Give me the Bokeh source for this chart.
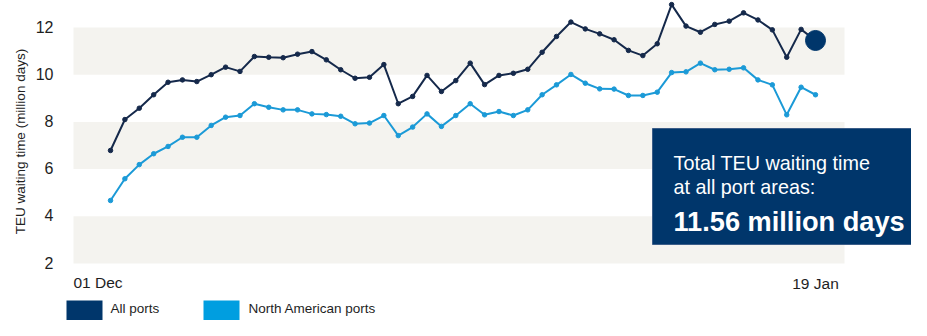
import math
from bokeh.plotting import figure
from bokeh.models import Range1d
from bokeh.core.properties import value
from bokeh.embed import file_html
from bokeh.resources import INLINE

# ---------------- data ----------------
date_labels = ["01 Dec", "19 Jan"]
all_ports = [6.79, 8.10, 8.58, 9.15, 9.68, 9.78, 9.71, 10.00, 10.32, 10.14,
             10.77, 10.74, 10.72, 10.87, 10.98, 10.63, 10.21, 9.85, 9.89, 10.43,
             8.77, 9.08, 9.97, 9.29, 9.75, 10.49, 9.58, 9.97, 10.06, 10.23,
             10.95, 11.62, 12.23, 11.94, 11.73, 11.48, 11.03, 10.81, 11.31, 12.97,
             12.06, 11.80, 12.13, 12.27, 12.62, 12.32, 11.90, 10.74, 11.92, 11.45]
north_america = [4.67, 5.59, 6.19, 6.65, 6.96, 7.35, 7.35, 7.85, 8.20, 8.27,
                 8.77, 8.62, 8.51, 8.51, 8.34, 8.31, 8.24, 7.92, 7.95, 8.27,
                 7.42, 7.78, 8.34, 7.81, 8.27, 8.77, 8.30, 8.44, 8.27, 8.51,
                 9.15, 9.57, 10.01, 9.64, 9.40, 9.39, 9.12, 9.12, 9.26, 10.09,
                 10.12, 10.49, 10.21, 10.23, 10.29, 9.78, 9.57, 8.30, 9.47, 9.15]
y_ticks = [2, 4, 6, 8, 10, 12]
band_bottoms = [2, 6, 10]
band_tops = [4, 8, 12]
series_names = ["All ports", "North American ports"]
callout_lines = ["Total TEU waiting time", "at all port areas:"]
callout_value = "11.56 million days"
y_title = "TEU waiting time (million days)"

days = list(range(len(all_ports)))

# ---------------- layout helpers (canvas pixel -> data) ----------------
W, H = 911, 320
DX = 705.0 / 49          # px per day
X0 = 110.0               # canvas x of first day
S = 23.6                 # px per unit
Y12 = 27.0               # canvas y of value 12


def px(cx):
    return (cx - X0) / DX


def py(cy):
    return 12 - (cy - Y12) / S


FONT = value("Liberation Sans")
NAVY = "#00366b"
LINE_DARK = "#15294b"
LIGHT = "#1b9ad7"
LEG_LIGHT = "#009ee0"
BAND = "#f4f3ef"
TXT = "#1e1e1e"

p = figure(width=W, height=H, output_backend="svg", toolbar_location=None,
           x_range=Range1d(px(0), px(W)), y_range=Range1d(py(H), py(0)),
           x_axis_type=None, y_axis_type=None, min_border=0,
           min_border_left=0, min_border_right=0, min_border_top=0, min_border_bottom=0)
p.outline_line_color = None
p.grid.visible = False
p.background_fill_color = "white"
p.border_fill_color = "white"

# shaded bands
p.quad(left=px(73), right=px(844), bottom=band_bottoms, top=band_tops,
       fill_color=BAND, line_color=None)

# y tick labels
p.text(x=[px(53)] * len(y_ticks), y=[t + 0.04 for t in y_ticks],
       text=[str(t) for t in y_ticks], text_align="right", text_baseline="middle",
       text_font=FONT, text_font_size="16px", text_color=TXT)

# y title
p.text(x=[px(20)], y=[py(141)], text=[y_title], angle=math.pi / 2,
       text_align="center", text_baseline="middle", text_font=FONT,
       text_font_size="13.5px", text_color="#222222")

# x labels
p.text(x=[px(73)], y=[py(282)], text=[date_labels[0]], text_align="left",
       text_baseline="middle", text_font=FONT, text_font_size="15.5px", text_color=TXT)
p.text(x=[days[-1]], y=[py(283)], text=[date_labels[1]], text_align="center",
       text_baseline="middle", text_font=FONT, text_font_size="15.5px", text_color=TXT)

# lines
p.line(days, north_america, line_color=LIGHT, line_width=2)
p.scatter(days, north_america, size=4.5, fill_color=LIGHT, line_color=LIGHT)
p.line(days, all_ports, line_color=LINE_DARK, line_width=2)
p.scatter(days[:-1], all_ports[:-1], size=4.5, fill_color=LINE_DARK, line_color=LINE_DARK)
p.scatter([days[-1]], [all_ports[-1]], size=20, fill_color=NAVY, line_color=NAVY)

# callout box
p.quad(left=[px(652)], right=[px(935)], bottom=[py(244)], top=[py(128)],
       fill_color=NAVY, line_color="#3b5d88", line_width=1)
p.text(x=[px(673), px(673)], y=[py(162), py(186)], text=callout_lines,
       text_align="left", text_baseline="alphabetic", text_font=FONT,
       text_font_size="19.8px", text_color="white")
p.text(x=[px(673)], y=[py(221)], text=[callout_value], text_align="left",
       text_baseline="alphabetic", text_font=FONT, text_font_size="27.2px",
       text_font_style="bold", text_color="white")

# legend
p.quad(left=[px(66), px(203)], right=[px(102), px(239)],
       bottom=[py(330), py(330)], top=[py(300), py(300)],
       fill_color=[NAVY, LEG_LIGHT], line_color=None)
p.text(x=[px(110), px(248)], y=[py(308), py(308)], text=series_names,
       text_align="left", text_baseline="middle", text_font=FONT,
       text_font_size="13.5px", text_color=TXT)

open("out.html", "w").write(file_html(p, INLINE))
